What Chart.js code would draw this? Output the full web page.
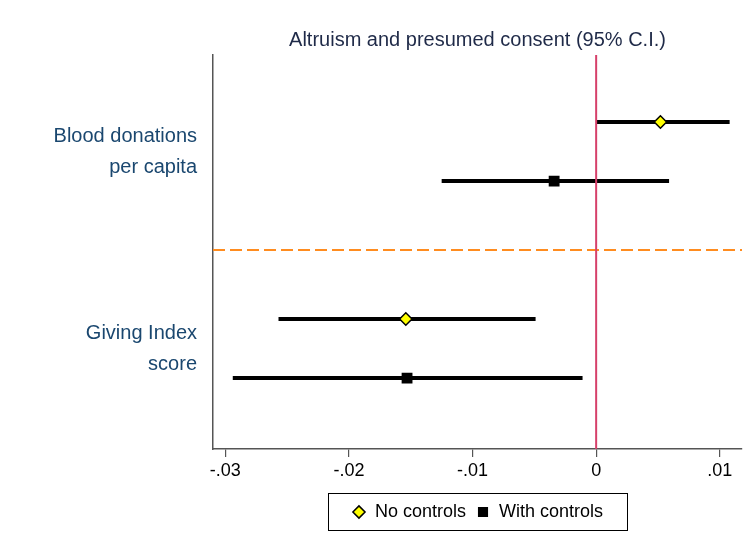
<!DOCTYPE html>
<html>
<head>
<meta charset="utf-8">
<title>Altruism and presumed consent</title>
<script src="https://cdn.jsdelivr.net/npm/chart.js@4.4.1/dist/chart.umd.min.js"></script>
<style>
    html, body { margin: 0; padding: 0; background: #fff; }
    #wrap { width: 747px; height: 546px; }
</style>
</head>
<body>
<div id="wrap"><canvas id="forestChart"></canvas></div>
<script>
// outcomes (two-line labels) and the y position of each estimate row
const outcomes = [['Blood donations', 'per capita'], ['Giving Index', 'score']];
const noCtrlRow = [1.7, 6.7];
const withCtrlRow = [3.2, 8.2];

// point estimates and 95% C.I. bounds
const noCtrlEst = [0.0052, -0.0154];
const noCtrlLo = [0.0, -0.0257];
const noCtrlHi = [0.0108, -0.0049];
const withCtrlEst = [-0.0034, -0.0153];
const withCtrlLo = [-0.0125, -0.0294];
const withCtrlHi = [0.0059, -0.0011];

const xTicks = [-0.03, -0.02, -0.01, 0, 0.01];
const xTickLabels = ['-.03', '-.02', '-.01', '0', '.01'];
const refValue = 0;
const groupBreak = 4.95;

const X_MIN = -0.031;
const X_MAX = 0.0118;
const FONT = '"Liberation Sans", Arial, Helvetica, sans-serif';

function ciDataset(lo, hi, row) {
    return {
        type: 'line',
        label: '',
        data: [{x: lo, y: row}, {x: hi, y: row}],
        borderColor: '#000',
        borderWidth: 4,
        borderCapStyle: 'butt',
        pointRadius: 0,
        order: 2
    };
}

function pointsDataset(label, est, row, style, fill, radius) {
    return {
        type: 'scatter',
        label: label,
        data: est.map((v, i) => ({x: v, y: row[i]})),
        pointStyle: style,
        backgroundColor: fill,
        borderColor: '#000',
        borderWidth: 1.5,
        pointRadius: radius,
        order: 0
    };
}

let datasets = [];
noCtrlEst.forEach((v, i) => datasets.push(ciDataset(noCtrlLo[i], noCtrlHi[i], noCtrlRow[i])));
withCtrlEst.forEach((v, i) => datasets.push(ciDataset(withCtrlLo[i], withCtrlHi[i], withCtrlRow[i])));

datasets.push(pointsDataset('No controls', noCtrlEst, noCtrlRow, 'rectRot', '#ffff00', 6.2));
datasets.push(pointsDataset('With controls', withCtrlEst, withCtrlRow, 'rect', '#000', 6.6));

// vertical reference line at zero
datasets.push({
    type: 'line',
    label: '',
    data: [{x: refValue, y: 0}, {x: refValue, y: 10}],
    borderColor: '#d6406a',
    borderWidth: 2,
    pointRadius: 0,
    order: 1
});

// dashed separator between the two outcomes
datasets.push({
    type: 'line',
    label: '',
    data: [{x: X_MIN, y: groupBreak}, {x: X_MAX, y: groupBreak}],
    borderColor: '#ff8c1f',
    borderWidth: 2,
    borderDash: [12, 5],
    pointRadius: 0,
    order: 3
});

// frame around the legend
const legendFrame = {
    id: 'legendFrame',
    afterDraw(chart) {
        const boxes = chart.legend && chart.legend.legendHitBoxes;
        if (!boxes || !boxes.length) return;
        const ctx = chart.ctx;
        const left = Math.min(...boxes.map(b => b.left)) - 24;
        const right = Math.max(...boxes.map(b => b.left + b.width)) + 24;
        ctx.save();
        ctx.strokeStyle = '#000';
        ctx.lineWidth = 1;
        ctx.strokeRect(Math.round(left) + 0.5, Math.round(chart.legend.top) + 0.5,
            Math.round(right - left), Math.round(chart.legend.height) - 1);
        ctx.restore();
    }
};

new Chart(document.getElementById('forestChart').getContext('2d'), {
    type: 'scatter',
    data: {datasets: datasets},
    plugins: [legendFrame],
    options: {
        responsive: true,
        maintainAspectRatio: false,
        animation: false,
        layout: {autoPadding: false, padding: {left: 0, right: 5, top: 0, bottom: 15}},
        plugins: {
            title: {
                display: true,
                text: 'Altruism and presumed consent (95% C.I.)',
                color: '#1f2a48',
                fullSize: false,
                font: {family: FONT, size: 20, weight: 'normal'},
                padding: {top: 28, bottom: 3}
            },
            legend: {
                display: true,
                position: 'bottom',
                fullSize: false,
                labels: {
                    usePointStyle: true,
                    boxWidth: 14,
                    boxHeight: 8.6,
                    padding: 10,
                    color: '#000',
                    font: {family: FONT, size: 18},
                    filter: item => item.text !== ''
                }
            },
            tooltip: {enabled: false}
        },
        scales: {
            x: {
                type: 'linear',
                min: X_MIN,
                max: X_MAX,
                afterBuildTicks: scale => { scale.ticks = xTicks.map(v => ({value: v})); },
                afterFit: scale => {
                    scale.height = 44;
                    scale.paddingLeft = 0;
                    scale.paddingRight = 0;
                },
                ticks: {
                    callback: value => xTickLabels[xTicks.indexOf(value)],
                    color: '#000',
                    autoSkip: false,
                    maxRotation: 0,
                    padding: 3,
                    font: {family: FONT, size: 18}
                },
                grid: {drawOnChartArea: false, drawTicks: true, tickLength: 8, color: '#555', lineWidth: 1.2},
                border: {display: true, color: '#555', width: 1.5}
            },
            y: {
                type: 'linear',
                min: 0,
                max: 10,
                reverse: true,
                afterBuildTicks: scale => {
                    scale.ticks = outcomes.map((o, i) => ({value: (noCtrlRow[i] + withCtrlRow[i]) / 2}));
                },
                afterFit: scale => { scale.width = 213; },
                ticks: {
                    callback: (value, index) => outcomes[index],
                    color: '#1a476f',
                    autoSkip: false,
                    padding: 16,
                    font: {family: FONT, size: 20, lineHeight: 1.55}
                },
                grid: {display: false, drawTicks: false},
                border: {display: true, color: '#555', width: 1.5}
            }
        }
    }
});
</script>
</body>
</html>
